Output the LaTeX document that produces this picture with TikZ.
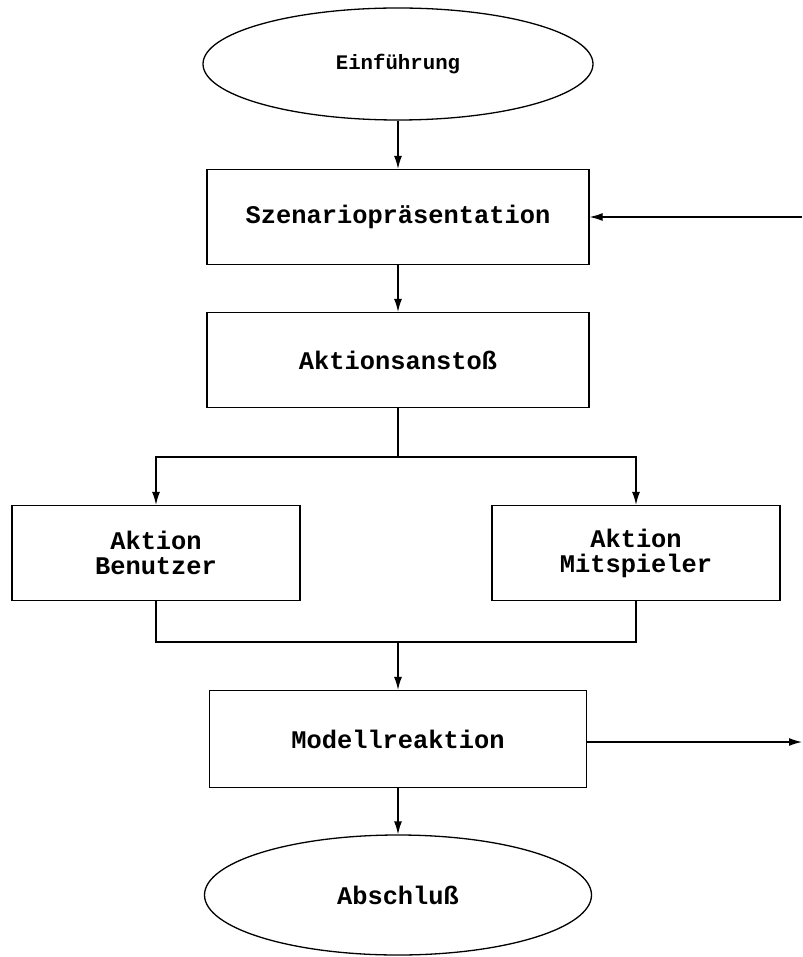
\documentclass[tikz,border=0pt]{standalone}
\usepackage{fontspec}
\setmonofont{Liberation Mono}
\usetikzlibrary{arrows.meta,shapes.geometric}

\tikzset{
    flowbox/.style={draw, line width=1.3pt, minimum width=382pt, minimum height=95pt,
        align=center, font=\ttfamily\bfseries\fontsize{25.4}{25}\selectfont},
    endnode/.style={draw, ellipse, line width=1.3pt, align=center,
        font=\ttfamily\bfseries\fontsize{25.4}{25}\selectfont},
    arr/.style={-{Latex[length=13pt,width=8pt]}, line width=1.3pt},
    conn/.style={line width=1.3pt}
}

\begin{document}
\begin{tikzpicture}[x=1pt, y=-1pt]
    \useasboundingbox (0,0) rectangle (802,957);

    % Main column
    \node[endnode, minimum width=390pt, minimum height=112pt,
          font=\ttfamily\bfseries\fontsize{20.7}{22}\selectfont] (einf) at (398,64) {Einführung};
    \node[flowbox] (szen) at (398,217) {Szenariopräsentation};
    \node[flowbox] (anst) at (398,360) {Aktionsanstoß};

    % The two actions
    \node[flowbox, minimum width=288pt] (benu) at (156,553) {Aktion\\Benutzer};
    \node[flowbox, minimum width=288pt] (mits) at (636,553) {Aktion\\Mitspieler};

    \node[flowbox, minimum width=377pt, minimum height=97pt] (modell) at (398,739) {Modellreaktion};
    \node[endnode, minimum width=387pt, minimum height=120pt] (absch) at (398,895) {Abschluß};

    % Free ends at the right margin
    \coordinate (back) at (802,217);
    \coordinate (out) at (802,742);
    \coordinate (split) at (398,457);
    \coordinate (merge) at (398,642);

    % Connectors
    \draw[arr] (einf) -- (szen);
    \draw[arr] (back) -- (szen.east |- back);
    \draw[arr] (szen) -- (anst);
    \draw[conn] (anst.south) -- (split);
    \draw[arr] (split) -| (benu.north);
    \draw[arr] (split) -| (mits.north);
    \draw[conn] (benu.south) |- (merge) -| (mits.south);
    \draw[arr] (merge) -- (modell);
    \draw[arr] (modell.east |- out) -- (out);
    \draw[arr] (modell) -- (absch);
\end{tikzpicture}
\end{document}
